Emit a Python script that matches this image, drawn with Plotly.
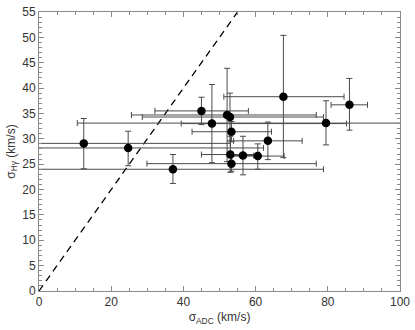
import plotly.graph_objects as go

# measured dispersions (km/s)
sigma_adc = [12.4, 24.7, 37.1, 45.0, 47.9, 52.1, 52.9, 53.3, 53.0, 56.5, 60.6, 53.3, 63.4, 67.7, 79.5, 86.0]
sigma_hg = [29.1, 28.2, 24.0, 35.5, 33.0, 34.7, 34.3, 31.4, 26.9, 26.7, 26.6, 25.1, 29.6, 38.3, 33.1, 36.7]

adc_err_lo = [40.6, 37.5, 41.7, 12.9, 8.5, 26.5, 24.3, 10.9, 8.0, 3.0, 7.3, 23.4, 9.5, 16.5, 68.9, 5.1]
adc_err_hi = [40.6, 37.5, 41.7, 13.0, 37.3, 24.7, 25.9, 11.1, 8.0, 3.0, 7.3, 23.5, 9.5, 16.8, 68.9, 5.0]
hg_err_lo = [5.0, 3.5, 2.8, 2.7, 7.7, 9.2, 4.7, 2.0, 3.5, 3.8, 2.6, 1.5, 3.7, 12.0, 4.3, 5.0]
hg_err_hi = [4.9, 3.3, 2.9, 2.7, 7.7, 9.2, 4.7, 2.0, 3.6, 3.8, 2.4, 1.5, 3.7, 12.1, 4.4, 5.2]

# one-to-one line
line_x = [0, 55]
line_y = [0, 55]

fig = go.Figure()

fig.add_trace(
    go.Scatter(
        x = line_x,
        y = line_y,
        mode = "lines",
        line = dict(color = "black", width = 1.3, dash = "7px,5px"),
        showlegend = False,
    )
)

fig.add_trace(
    go.Scatter(
        x = sigma_adc,
        y = sigma_hg,
        mode = "markers",
        marker = dict(size = 8.5, color = "black"),
        error_x = dict(
            type = "data",
            symmetric = False,
            array = adc_err_hi,
            arrayminus = adc_err_lo,
            color = "#4a4a4a",
            thickness = 1,
            width = 3,
        ),
        error_y = dict(
            type = "data",
            symmetric = False,
            array = hg_err_hi,
            arrayminus = hg_err_lo,
            color = "#4a4a4a",
            thickness = 1,
            width = 3,
        ),
        showlegend = False,
    )
)

axis_common = dict(
    showgrid = False,
    zeroline = False,
    showline = True,
    linecolor = "#8a8a8a",
    linewidth = 1,
    mirror = "allticks",
    ticks = "inside",
    ticklen = 5,
    tickcolor = "#8a8a8a",
    tickfont = dict(size = 12, color = "#333333"),
    ticklabeloverflow = "allow",
)

fig.update_layout(
    width = 415,
    height = 330,
    plot_bgcolor = "white",
    paper_bgcolor = "white",
    font = dict(family = "Liberation Sans, Arial, sans-serif", size = 12, color = "#333333"),
    margin = dict(l = 39, r = 11, t = 5, b = 39),
    xaxis = dict(
        range = [0, 100],
        dtick = 20,
        minor = dict(dtick = 5, ticks = "inside", ticklen = 3, tickcolor = "#8a8a8a"),
        title = dict(text = "σ<sub>ADC</sub> (km/s)", standoff = 4, font = dict(size = 12)),
        **axis_common,
    ),
    yaxis = dict(
        range = [0, 55],
        dtick = 5,
        minor = dict(dtick = 1, ticks = "inside", ticklen = 3, tickcolor = "#8a8a8a"),
        title = dict(text = "σ<sub>Hγ</sub> (km/s)", standoff = 4, font = dict(size = 12)),
        **axis_common,
    ),
)

fig.write_html(
    "out.html",
    config = {"displayModeBar": False},
    post_script = "document.body.style.margin = '0px';",
)
